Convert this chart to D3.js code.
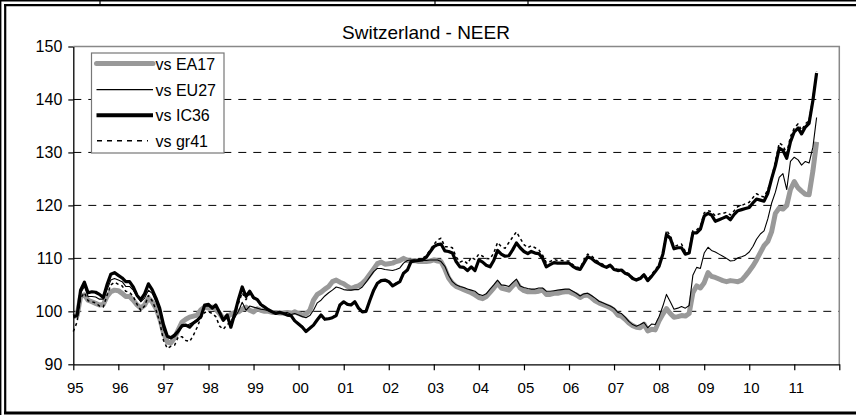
<!DOCTYPE html>
<html>
<head>
<meta charset="utf-8">
<script src="https://cdn.jsdelivr.net/npm/d3@7/dist/d3.min.js"></script>
<style>
    html, body { margin: 0; padding: 0; background: #fff; overflow: hidden; }
    text { font-family: Arial, "Liberation Sans", sans-serif; fill: #000; }
</style>
</head>
<body>
<div id="chart" style="width:856px;height:415px;"></div>
<script>
// data, monthly from Jan 1995
var yearLabels = ['95', '96', '97', '98', '99', '00', '01', '02', '03', '04', '05', '06', '07', '08', '09', '10', '11'];
var yTicks = [90, 100, 110, 120, 130, 140, 150];
var seriesNames = ['vs EA17', 'vs EU27', 'vs IC36', 'vs gr41'];

var ea17 = [
    99.0, 99.2, 102.8, 103.1, 102.1, 101.8, 101.5, 101.2, 101.3, 102.8, 103.7, 104.0,
    103.9, 103.4, 102.8, 102.8, 102.1, 101.2, 100.6, 101.2, 102.5, 101.8, 100.6, 98.7,
    96.0, 94.2, 94.0, 95.0, 96.5, 98.0, 98.5, 98.9, 99.1, 99.3, 100.3, 100.8,
    100.6, 100.8, 100.4, 99.6, 98.6, 99.0, 99.4, 99.8, 99.9, 100.4, 100.8, 100.2,
    99.9, 100.5, 100.2, 100.0, 100.0, 99.8, 99.8, 99.7, 99.7, 99.8, 99.6, 99.9,
    99.6, 99.3, 99.5, 100.2, 102.1, 103.2, 103.6, 104.2, 104.7, 105.6, 105.9, 105.5,
    105.2, 104.7, 104.3, 104.6, 104.8, 105.3, 106.0, 107.0, 108.0, 109.0, 109.3, 108.9,
    109.0, 109.1, 109.4, 109.6, 110.0, 109.6, 109.5, 109.6, 109.4, 109.4, 109.4, 109.5,
    109.7, 109.5, 109.4, 108.0, 106.3, 105.3, 104.7, 104.4, 104.1, 103.8, 103.5, 103.1,
    102.6, 102.4, 102.8, 103.6, 104.4, 105.3, 104.4, 104.2, 104.0, 104.8, 105.5, 104.4,
    103.9, 103.7, 103.7, 103.7, 103.8, 104.0, 103.2, 103.2, 103.4, 103.4, 103.6, 103.7,
    103.7, 103.4, 103.1, 102.6, 103.0, 103.1, 102.6, 102.0, 101.6, 101.3, 101.0, 100.7,
    100.2, 99.3, 99.1, 98.5, 97.8, 97.3, 97.0, 96.9, 97.6, 96.3, 96.6, 96.5,
    98.2, 99.5, 100.5, 99.6, 98.9, 99.0, 99.2, 99.1, 99.6, 103.5, 104.8, 104.4,
    105.4, 107.3, 106.6, 106.4, 106.1, 105.8, 105.6, 105.8, 105.7, 105.6, 105.9, 106.7,
    107.6, 108.6, 109.7, 111.1, 112.4, 113.2, 115.0, 118.5, 119.5, 119.3, 120.0, 123.0,
    124.5, 123.3, 122.7, 122.1, 122.0, 126.5, 132.0
];

var eu27 = [
    99.1, 99.2, 103.4, 104.7, 102.8, 102.8, 102.7, 102.3, 102.3, 104.0, 105.9, 106.2,
    105.9, 105.6, 104.7, 104.7, 104.0, 102.8, 101.8, 102.5, 104.0, 103.4, 101.8, 99.9,
    96.5, 95.1, 94.9, 95.2, 96.0, 97.1, 97.2, 97.6, 98.0, 98.4, 99.3, 100.9,
    101.0, 100.6, 100.8, 99.6, 98.5, 98.9, 97.9, 98.8, 100.0, 101.7, 100.2, 101.0,
    100.8, 100.6, 100.4, 100.3, 100.1, 100.0, 99.8, 99.9, 99.6, 99.8, 99.4, 99.6,
    99.3, 99.0, 98.8, 99.2, 100.2, 101.6, 102.1, 102.9, 103.5, 104.0, 104.6, 104.4,
    104.1, 104.0, 104.0, 104.1, 104.1, 104.6, 105.5, 106.5, 107.5, 108.1, 108.1, 107.9,
    107.8, 107.7, 107.9, 108.2, 109.1, 109.6, 109.7, 109.7, 109.6, 109.6, 109.6, 109.7,
    109.7, 109.7, 109.4, 108.5, 106.8, 105.6, 105.0, 104.7, 104.5, 104.2, 104.0, 103.8,
    103.2, 103.0, 103.3, 104.2, 105.0, 105.9, 105.0, 104.9, 104.7, 105.4, 106.1, 104.8,
    104.5, 104.3, 104.2, 104.2, 104.4, 104.4, 103.8, 103.8, 103.9, 104.0, 104.1, 104.2,
    104.2, 103.8, 103.4, 102.9, 103.3, 103.4, 103.0, 102.5, 101.9, 101.6, 101.3, 101.0,
    100.6, 99.8, 99.6, 98.9, 98.1, 97.5, 97.2, 97.5, 97.9, 96.9, 97.6, 97.5,
    99.0, 101.0, 103.2, 101.8, 100.4, 100.6, 100.9, 100.6, 101.1, 106.8, 108.3, 108.1,
    111.0, 112.1, 111.5, 111.2, 110.8, 110.4, 110.0, 109.5, 109.6, 110.1, 110.3, 110.6,
    111.2, 112.3, 113.6, 114.6, 115.2, 117.5, 120.4, 122.5, 125.3, 126.0, 123.0, 128.3,
    129.1, 128.6, 127.6, 128.3, 128.0, 131.0, 136.6
];

var ic36 = [
    99.0, 99.2, 104.0, 105.5, 103.5, 103.7, 103.6, 103.2, 102.6, 105.0, 107.0, 107.3,
    106.8, 106.3, 105.6, 105.6, 104.6, 103.0, 102.2, 103.3, 105.2, 104.1, 102.5, 100.6,
    97.5, 95.3, 95.0, 95.5, 96.3, 97.3, 97.4, 97.0, 97.8, 98.3, 99.0, 101.2,
    101.3, 100.6, 101.2, 99.8, 98.3, 99.3, 97.0, 99.5, 102.3, 104.6, 102.8, 103.8,
    102.6, 102.2, 101.3, 100.8, 100.3, 99.9, 99.6, 99.8, 99.6, 99.3, 99.2, 98.2,
    97.6, 97.0, 96.2, 96.8, 97.4, 98.4, 99.3, 98.5, 98.6, 98.8, 99.2, 101.2,
    101.8, 101.3, 101.2, 101.8, 100.6, 99.9, 100.0, 102.1, 104.0, 105.3, 105.8, 105.9,
    105.6, 104.8, 105.2, 105.6, 107.2, 107.8, 109.4, 109.5, 109.6, 109.7, 110.2, 111.2,
    112.2, 112.6, 112.7, 111.4, 111.3, 111.0, 109.4, 108.4, 108.3, 107.7, 108.4, 107.7,
    109.7, 109.3, 108.7, 108.4, 109.6, 111.5, 110.8, 110.4, 110.5, 111.6, 112.9, 112.0,
    111.3, 110.9, 111.3, 111.0, 110.9, 110.0, 108.4, 108.8, 109.2, 109.1, 109.1, 109.1,
    109.1, 108.5, 108.1, 107.9, 109.1, 110.3, 110.0, 109.4, 109.0, 108.6, 108.3, 108.7,
    107.9, 107.7, 107.8, 107.2, 106.9, 106.2, 105.9, 106.2, 106.9, 105.8, 106.6, 107.5,
    108.5, 110.8, 114.5, 113.8, 111.8, 112.0, 112.0, 110.8, 111.0, 114.8, 114.8, 115.5,
    118.0, 118.5, 118.2, 117.0, 117.3, 117.6, 117.9, 117.3, 118.3, 119.0, 119.2, 119.4,
    119.6, 120.5, 121.2, 121.0, 120.8, 122.3, 125.0, 127.5, 130.8, 130.4, 128.9, 132.0,
    133.9, 134.6, 133.5, 134.8, 135.5, 139.8, 145.0
];

var gr41 = [
    96.2, 98.0, 102.5, 103.5, 102.0, 101.8, 101.6, 101.0, 100.8, 103.0, 105.0, 105.5,
    105.1, 104.8, 103.8, 103.6, 102.8, 101.3, 100.2, 101.0, 103.0, 102.0, 100.3, 98.0,
    94.5, 93.0, 93.4, 93.6, 95.2, 95.2, 94.5, 94.3, 95.5, 97.0, 98.8, 99.8,
    99.9, 99.6, 99.0, 97.2, 96.6, 97.5, 98.0, 99.4, 101.5, 103.5, 102.2, 103.3,
    102.4, 102.0, 101.2, 100.7, 100.3, 99.9, 99.6, 99.8, 99.6, 99.3, 99.1, 98.1,
    97.7, 97.1, 96.3, 96.9, 97.5, 98.5, 99.4, 98.6, 98.7, 98.9, 99.3, 101.3,
    101.9, 101.4, 101.3, 101.9, 100.7, 100.0, 100.1, 102.2, 104.1, 105.4, 105.9, 106.0,
    105.7, 104.9, 105.3, 105.7, 107.3, 107.9, 109.5, 109.7, 109.9, 110.0, 110.5, 111.6,
    112.6, 113.5, 113.8, 112.2, 112.2, 112.0, 110.3, 109.3, 109.6, 109.0, 110.2, 109.8,
    110.8, 110.4, 110.0, 109.9, 111.0, 113.0, 112.2, 111.9, 113.0, 114.0, 115.0, 113.8,
    112.6, 112.0, 112.4, 112.0, 111.6, 110.6, 109.2, 109.4, 109.8, 109.6, 109.6, 109.5,
    109.5, 108.8, 108.4, 108.2, 109.6, 110.8, 110.5, 109.8, 109.3, 108.9, 108.5, 108.9,
    108.1, 107.9, 108.0, 107.4, 107.1, 106.4, 106.1, 106.4, 107.1, 106.0, 106.9, 107.9,
    108.8, 111.0, 115.3, 114.3, 112.2, 112.5, 112.7, 111.3, 111.6, 115.2, 115.4, 116.0,
    118.6, 119.0, 118.8, 118.0, 118.4, 118.5, 118.7, 118.2, 119.0, 119.8, 120.0, 120.3,
    120.6, 121.5, 122.2, 121.8, 121.6, 123.0, 125.0, 128.3, 131.8, 131.3, 129.8, 133.0,
    134.6, 135.4, 134.2, 135.4, 136.0, 140.2, 145.3
];


function NeerChart() {
    this.config = {
        width: 856,
        height: 415,
        plot: { left: 73.3, right: 839.3, top: 46.5, bottom: 364.3 },
        font: { x: 15, y: 16, legend: 16, title: 19 }
    };
    this.styles = [
        { stroke: '#999999', width: 5, dash: null },
        { stroke: '#000000', width: 1.1, dash: null },
        { stroke: '#000000', width: 3.2, dash: null },
        { stroke: '#000000', width: 1.5, dash: '3,3' }
    ];
    this.svg = null;
}

NeerChart.prototype.init = function(element) {
    this.svg = d3.select(element).append('svg')
        .attr('width', this.config.width)
        .attr('height', this.config.height)
        .style('display', 'block');
    var p = this.config.plot;
    this.x = d3.scaleTime()
        .domain([new Date(1995, 0, 1), new Date(2012, 0, 1)])
        .range([p.left, p.right]);
    this.y = d3.scaleLinear()
        .domain([yTicks[0], yTicks[yTicks.length - 1]])
        .range([p.bottom, p.top]);
};

NeerChart.prototype.draw = function() {
    this.drawFrame();
    this.drawGrid();
    this.drawSeries();
    this.drawAxes();
    this.drawLegend();
};

// frame of the surrounding table + chart area (right side runs off the page)
NeerChart.prototype.drawFrame = function() {
    var svg = this.svg, w = this.config.width, h = this.config.height;
    function hline(y, x1, x2, sw) {
        svg.append('line').attr('x1', x1).attr('x2', x2).attr('y1', y).attr('y2', y)
            .attr('stroke', '#000').attr('stroke-width', sw);
    }
    function vline(x, y1, y2, sw) {
        svg.append('line').attr('x1', x).attr('x2', x).attr('y1', y1).attr('y2', y2)
            .attr('stroke', '#000').attr('stroke-width', sw);
    }
    hline(0.7, 0, w, 1.4);
    vline(0.7, 0, h, 1.4);
    [100, 435, 528].forEach(function(x) { vline(x, 0, 5, 1.2); });
    hline(5.2, 4, w, 2.2);
    vline(5.2, 4, 414, 2.2);
    hline(413, 4, w, 3);

    svg.append('text')
        .attr('x', 426).attr('y', 38.5)
        .attr('text-anchor', 'middle')
        .style('font-size', this.config.font.title + 'px')
        .text('Switzerland - NEER');
};

NeerChart.prototype.drawGrid = function() {
    var self = this, p = this.config.plot;
    this.svg.append('g').selectAll('line')
        .data(yTicks.slice(1, -1))
        .enter().append('line')
        .attr('x1', p.left).attr('x2', p.right)
        .attr('y1', function(d) { return self.y(d); })
        .attr('y2', function(d) { return self.y(d); })
        .attr('stroke', '#000').attr('stroke-width', 1)
        .attr('stroke-dasharray', '8,7');
    // grey border top and right
    this.svg.append('path')
        .attr('d', 'M' + p.left + ',' + p.top + 'H' + p.right + 'V' + p.bottom)
        .attr('fill', 'none').attr('stroke', '#888').attr('stroke-width', 1.5);
};

NeerChart.prototype.drawSeries = function() {
    var self = this,
        all = [ea17, gr41, eu27, ic36],
        styleIdx = [0, 3, 1, 2];
    var line = d3.line()
        .x(function(d, i) { return self.x(new Date(1995, i, 1)); })
        .y(function(d) { return self.y(d); });
    all.forEach(function(values, k) {
        var s = self.styles[styleIdx[k]];
        self.svg.append('path')
            .datum(values)
            .attr('d', line)
            .attr('fill', 'none')
            .attr('stroke', s.stroke)
            .attr('stroke-width', s.width)
            .attr('stroke-linejoin', 'round')
            .attr('stroke-dasharray', s.dash);
    });
};

NeerChart.prototype.drawAxes = function() {
    var p = this.config.plot, font = this.config.font;
    var years = d3.range(1995, 2013).map(function(y) { return new Date(y, 0, 1); });

    var xAxis = d3.axisBottom(this.x)
        .tickValues(years)
        .tickSize(6).tickSizeOuter(0).tickPadding(12)
        .tickFormat(function(d, i) { return yearLabels[i] || ''; });
    var gx = this.svg.append('g')
        .attr('transform', 'translate(0,' + p.bottom + ')')
        .call(xAxis);

    var yAxis = d3.axisLeft(this.y)
        .tickValues(yTicks)
        .tickSize(5).tickSizeOuter(0).tickPadding(6);
    var gy = this.svg.append('g')
        .attr('transform', 'translate(' + p.left + ',0)')
        .call(yAxis);

    [gx, gy].forEach(function(g) {
        g.select('.domain').attr('stroke', '#000').attr('stroke-width', 1.3);
        g.selectAll('.tick line').attr('stroke', '#000').attr('stroke-width', 1.2);
        g.selectAll('.tick text')
            .style('font-family', 'Arial, "Liberation Sans", sans-serif')
            .attr('fill', '#000');
    });
    gx.selectAll('.tick text').style('font-size', font.x + 'px').attr('dx', '1.5');
    gy.selectAll('.tick text').style('font-size', font.y + 'px');
};

NeerChart.prototype.drawLegend = function() {
    var self = this,
        g = this.svg.append('g'),
        rowY = [63.6, 89.6, 115.2, 140.8];
    g.append('rect')
        .attr('x', 91.5).attr('y', 53).attr('width', 132.5).attr('height', 100)
        .attr('fill', '#fff').attr('stroke', '#777').attr('stroke-width', 1.2);
    seriesNames.forEach(function(name, i) {
        var s = self.styles[i];
        g.append('line')
            .attr('x1', i === 3 ? 97 : 96.5).attr('x2', i === 3 ? 148 : 153)
            .attr('y1', rowY[i]).attr('y2', rowY[i])
            .attr('stroke', s.stroke)
            .attr('stroke-width', i === 2 ? 4 : s.width)
            .attr('stroke-linecap', i === 0 ? 'round' : 'butt')
            .attr('stroke-dasharray', i === 3 ? '5,5' : null);
        g.append('text')
            .attr('x', 155.5).attr('y', rowY[i] + 6)
            .style('font-size', self.config.font.legend + 'px')
            .text(name);
    });
};


var chart = new NeerChart();
chart.init(document.getElementById('chart'));
chart.draw();
</script>
</body>
</html>
